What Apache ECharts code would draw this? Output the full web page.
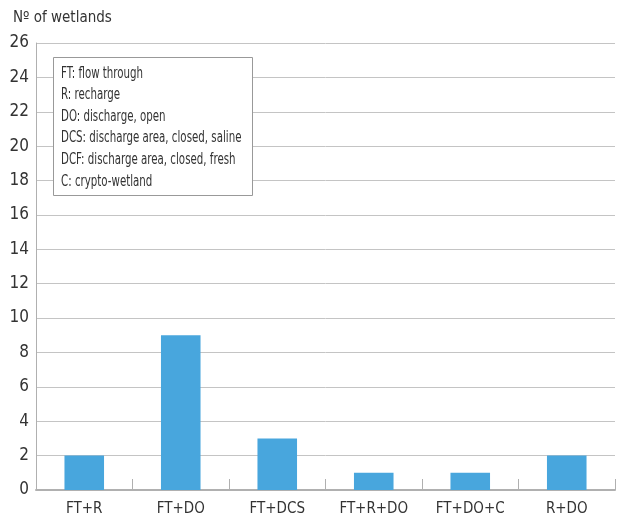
<!DOCTYPE html>
<html>
<head>
<meta charset="utf-8">
<script src="https://cdn.jsdelivr.net/npm/echarts@6/dist/echarts.min.js"></script>
<style>
  html, body { margin: 0; padding: 0; background: #fff; }
  #chart { width: 619px; height: 519px; }
</style>
</head>
<body>
<div id="chart"></div>
<script>
  var categories = ['FT+R', 'FT+DO', 'FT+DCS', 'FT+R+DO', 'FT+DO+C', 'R+DO'];
  var wetlands = [2, 9, 3, 1, 1, 2];
  var legendLines = [
    'FT: flow through',
    'R: recharge',
    'DO: discharge, open',
    'DCS: discharge area, closed, saline',
    'DCF: discharge area, closed, fresh',
    'C: crypto-wetland'
  ];

  var font = "'Liberation Sans Narrow', 'DejaVu Sans Condensed', 'Roboto', sans-serif";
  var chart = echarts.init(document.getElementById('chart'));
  chart.setOption({
    animation: false,
    title: {
      text: 'Nº of wetlands',
      left: 8, top: 6,
      textStyle: { fontFamily: font, fontSize: 15, fontWeight: 'normal', color: '#333' }
    },
    grid: { left: 36, right: 4, top: 43, bottom: 29 },
    xAxis: {
      type: 'category',
      data: categories,
      axisLine: { lineStyle: { color: '#b0b0b0', width: 2 } },
      axisTick: { show: true, inside: true, length: 11, lineStyle: { color: '#b0b0b0', width: 1 } },
      axisLabel: { fontFamily: font, fontSize: 15, color: '#333', margin: 12 }
    },
    yAxis: {
      type: 'value',
      min: 0, max: 26, interval: 2,
      axisLine: { show: true, lineStyle: { color: '#b0b0b0', width: 1 } },
      axisTick: { show: false },
      splitLine: { lineStyle: { color: '#c4c4c4', width: 1 } },
      axisLabel: { fontFamily: font, fontSize: 17, color: '#333', margin: 7 }
    },
    series: [{
      type: 'bar',
      data: wetlands,
      barWidth: '41%',
      itemStyle: { color: '#48a6dd' }
    }],
    graphic: [{
      type: 'rect',
      z: 100,
      left: 53, top: 57,
      shape: { width: 199, height: 138 },
      style: { fill: '#ffffff', stroke: '#999', lineWidth: 1 }
    }, {
      type: 'text',
      z: 101,
      left: 61, top: 63,
      scaleX: 0.76,
      style: {
        text: legendLines.join('\n'),
        font: '15px ' + font,
        lineHeight: 21.6,
        fill: '#333'
      }
    }]
  });
</script>
</body>
</html>
